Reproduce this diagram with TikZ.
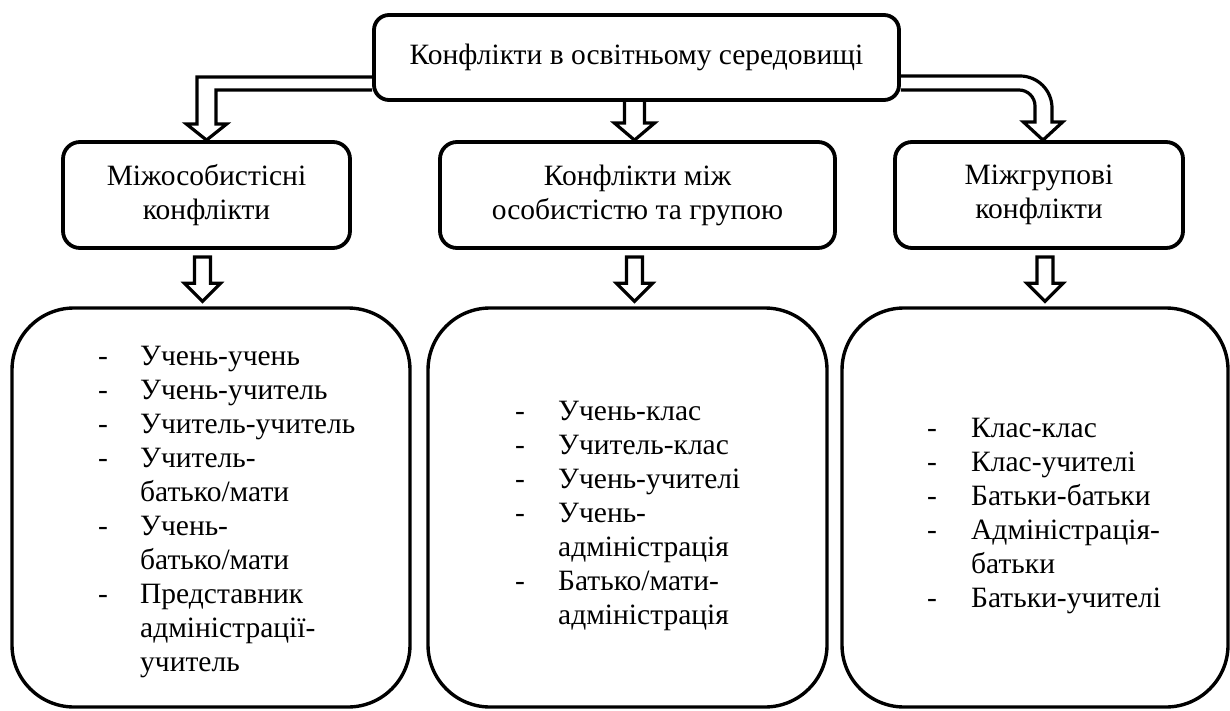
\documentclass[tikz,border=0pt]{standalone}
\usepackage{fontspec}
\setmainfont{Liberation Serif}
\usepackage{array}
\usetikzlibrary{calc}
\newcommand\hollowdown[3]{%
  \draw[hollow] ($(#1 |- #2.south)+(-8,7)$) -- ($(#1 |- #3.north)+(-8,-23)$) -- ++(-10,0)
    -- ($(#1 |- #3.north)+(0,-5)$) -- ($(#1 |- #3.north)+(18,-23)$) -- ++(-10,0)
    -- ($(#1 |- #2.south)+(8,7)$) -- cycle;}
\begin{document}
\begin{tikzpicture}[x=1pt,y=-1pt,
  every node/.style={font=\fontsize{29.5}{34}\selectfont},
  topbox/.style={draw,line width=3.8pt,rounded corners=15pt,inner sep=0pt},
  midbox/.style={draw,line width=3.8pt,rounded corners=17pt,inner sep=0pt,align=center},
  bigbox/.style={draw,line width=3.4pt,rounded corners=62pt,inner sep=0pt},
  listnode/.style={anchor=base west,inner sep=0pt},
  hollow/.style={draw,line width=3.2pt,line join=miter}]
\useasboundingbox (0,0) rectangle (1230,711);

% boxes
\node[topbox,minimum width=525pt,minimum height=85pt] (top) at (636.5,57.5) {Конфлікти в освітньому середовищі};
\node[midbox,minimum width=287pt,minimum height=106pt] (n1) at (206.5,195) {Міжособистісні\\конфлікти};
\node[midbox,minimum width=395pt,minimum height=106pt] (n2) at (637.5,195) {Конфлікти між\\особистістю та групою};
\node[midbox,minimum width=288pt,minimum height=106pt] (n3) at (1039,195) {Міжгрупові\\конфлікти};
\node[bigbox,minimum width=398pt,minimum height=399pt] (b1) at (211,507.5) {};
\node[bigbox,minimum width=399pt,minimum height=399pt] (b2) at (627.5,507.5) {};
\node[bigbox,minimum width=386pt,minimum height=399pt] (b3) at (1035,507.5) {};

% lists
\node[listnode] (l1) at (98,365) {\begin{tabular}[t]{@{}p{42pt}@{}l@{}}
- & Учень-учень\\
- & Учень-учитель\\
- & Учитель-учитель\\
- & Учитель-\\
  & батько/мати\\
- & Учень-\\
  & батько/мати\\
- & Представник\\
  & адміністрації-\\
  & учитель
\end{tabular}};
\node[listnode] (l2) at (515,420) {\begin{tabular}[t]{@{}p{43pt}@{}l@{}}
- & Учень-клас\\
- & Учитель-клас\\
- & Учень-учителі\\
- & Учень-\\
  & адміністрація\\
- & Батько/мати-\\
  & адміністрація
\end{tabular}};
\node[listnode] (l3) at (927,437) {\begin{tabular}[t]{@{}p{44pt}@{}l@{}}
- & Клас-клас\\
- & Клас-учителі\\
- & Батьки-батьки\\
- & Адміністрація-\\
  & батьки\\
- & Батьки-учителі
\end{tabular}};

% top-level arrows
\draw[hollow] ($(top.west)+(0,19.5)$) -| ($(n1.north)+(-9.5,-16)$) -- ++(-10.5,0) -- (n1.north)
  -- ($(n1.north)+(20,-16)$) -- ++(-10.5,0) |- ($(top.west)+(0,32.5)$);

\coordinate (m) at ($(n2.north)+(-3,0)$);
\draw[hollow] ($(m |- top.south)+(-10,0)$) -- ($(m)+(-10,-17)$) -- ++(-10,0) -- (m)
  -- ($(m)+(20,-17)$) -- ++(-10,0) -- ($(m |- top.south)+(10,0)$);

\coordinate (r) at ($(n3.north)+(4,0)$);
\coordinate (ry1) at ($(top.east)+(0,18.5)$);
\coordinate (ry2) at ($(top.east)+(0,32.5)$);
\coordinate (rxo) at ($(r)+(9,0)$);
\coordinate (rxi) at ($(r)+(-8,0)$);
\draw[hollow] (ry1) -- ($(rxo |- ry1)+(-32,0)$)
  .. controls ($(rxo |- ry1)+(-14.3,0)$) and ($(rxo |- ry1)+(0,14.3)$) .. ($(rxo |- ry1)+(0,32)$)
  -- ($(r)+(9,-18)$) -- ++(10.5,0) -- (r) -- ($(r)+(-19.5,-18)$) -- ++(11.5,0)
  -- ($(rxi |- ry2)+(0,16)$)
  .. controls ($(rxi |- ry2)+(0,7.2)$) and ($(rxi |- ry2)+(-7.2,0)$) .. ($(rxi |- ry2)+(-16,0)$)
  -- (ry2);

% lower arrows
\coordinate (d1) at (202.5,0);
\coordinate (d2) at (634.5,0);
\coordinate (d3) at (1045,0);
\hollowdown{d1}{n1}{b1}
\hollowdown{d2}{n2}{b2}
\hollowdown{d3}{n3}{b3}
\end{tikzpicture}
\end{document}
